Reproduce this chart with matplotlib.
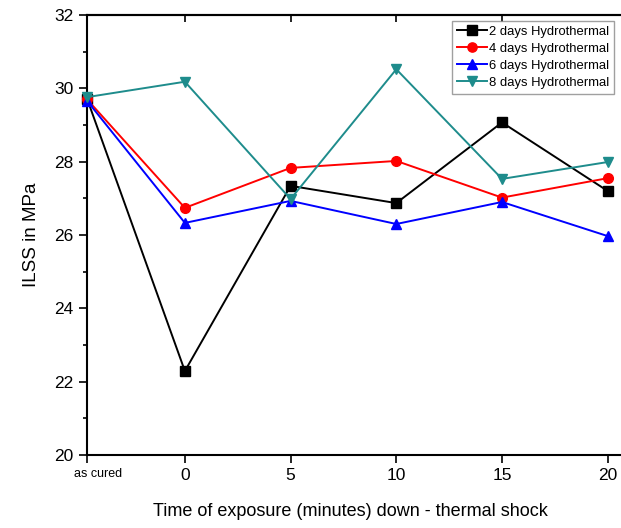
import matplotlib
matplotlib.use('Agg')
import matplotlib.pyplot as plt
import matplotlib.transforms as mtransforms

plt.rcParams['font.family'] = ['Liberation Sans', 'DejaVu Sans']

# data
x_labels = ['as cured', '0', '5', '10', '15', '20']
x_pos = [-4.63, 0, 5, 10, 15, 20]
days2 = [29.72, 22.29, 27.34, 26.87, 29.07, 27.20]
days4 = [29.70, 26.74, 27.83, 28.02, 27.02, 27.55]
days6 = [29.66, 26.33, 26.93, 26.30, 26.90, 25.97]
days8 = [29.76, 30.18, 26.98, 30.52, 27.53, 27.99]

series = [
    ('2 days Hydrothermal', days2, 'black', 's'),
    ('4 days Hydrothermal', days4, 'red', 'o'),
    ('6 days Hydrothermal', days6, 'blue', '^'),
    ('8 days Hydrothermal', days8, '#1E8C8C', 'v'),
]

size = 621, 528
dpi = 100.0
fig = plt.figure(figsize=(size[0] / dpi, size[1] / dpi), dpi=dpi, facecolor='white')

# axes runs past the right edge of the picture, like the original crop
ax = fig.add_axes([87 / 621, 73 / 528, 563 / 621, 440 / 528])
ax.set_xlim(-4.63, 22.0)
ax.set_ylim(20, 32)

for name, vals, col, mk in series:
    ax.plot(x_pos, vals, color=col, marker=mk, markersize=7, lw=1.4,
            label=name, clip_on=False, zorder=3)

ax.set_xticks(x_pos)
ax.set_xticklabels(x_labels)
ax.set_yticks(range(20, 33, 2))
ax.set_yticks(range(21, 32, 2), minor=True)
ax.tick_params(axis='both', which='major', direction='out', length=6, width=1.2,
               labelsize=12.5)
ax.tick_params(axis='y', which='minor', direction='out', length=3, width=1.2)

lbl = ax.get_xticklabels()[0]
lbl.set_fontsize(9)
lbl.set_transform(lbl.get_transform() +
                  mtransforms.ScaledTranslation(11 / dpi, 0, fig.dpi_scale_trans))

top = ax.secondary_xaxis('top')
top.set_xticks(x_pos[:-1])
top.tick_params(direction='in', length=5, width=1.2, labeltop=False)

for s in ['left', 'bottom', 'top']:
    ax.spines[s].set_linewidth(1.5)
top.spines['top'].set_linewidth(1.5)
ax.spines['right'].set_visible(False)

ax.set_xlabel('Time of exposure (minutes) down - thermal shock', fontsize=13)
ax.set_ylabel('ILSS in MPa', fontsize=13.5)
ax.xaxis.set_label_coords((350 - 87) / 563, -0.11)
ax.yaxis.set_label_coords(-0.083, 0.5)

leg = ax.legend(loc='upper left', bbox_to_anchor=(452 / 621, 1 - 21 / 528),
                bbox_transform=fig.transFigure, fontsize=9.4, frameon=True,
                fancybox=False, borderaxespad=0, handlelength=2.3,
                labelspacing=0.38, handletextpad=0.2, borderpad=0.35,
                markerscale=0.95)
leg.get_frame().set_edgecolor('#888888')
leg.get_frame().set_linewidth(1.0)

fig.savefig('out.png', dpi=dpi)
